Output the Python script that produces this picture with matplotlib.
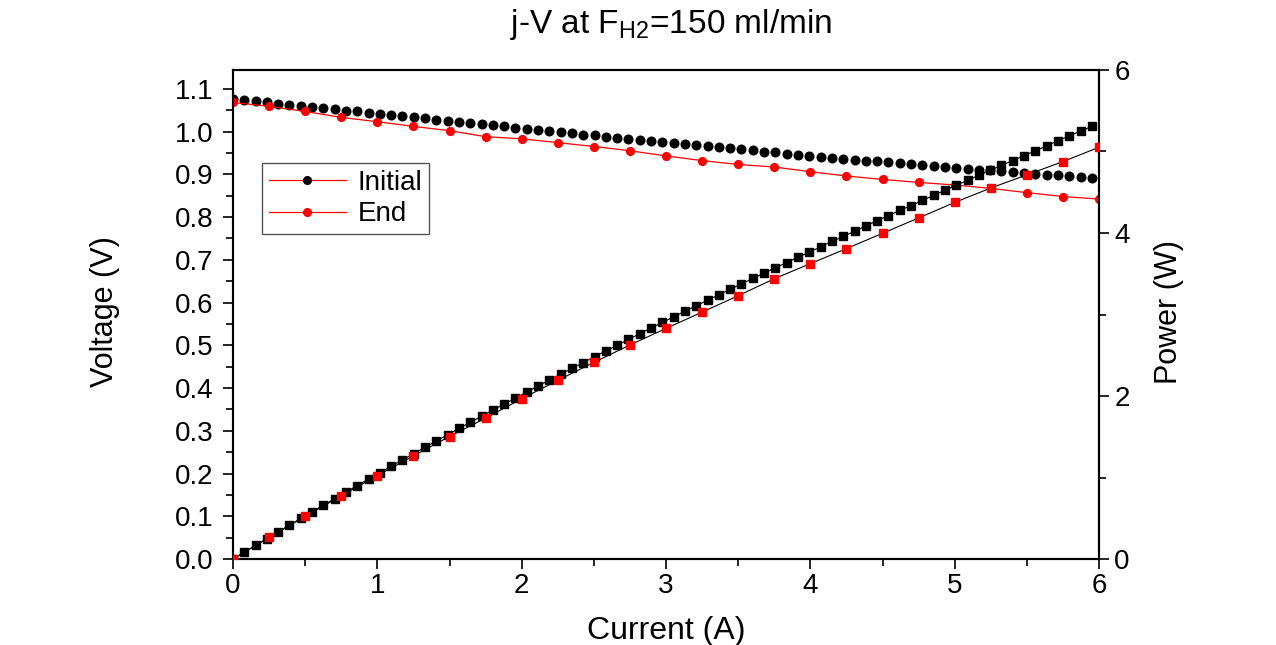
import numpy as np
import matplotlib
matplotlib.use("Agg")
import matplotlib.pyplot as plt
import matplotlib.ticker as ticker
from matplotlib.lines import Line2D

plt.rcParams['font.family'] = ['Liberation Sans', 'DejaVu Sans']
plt.rcParams['mathtext.default'] = 'regular'

# initial sweep: dense, ~0.078 A steps
current_initial = np.round(np.linspace(0, 5.95, 77), 3)
voltage_initial = [
    1.076, 1.073, 1.071, 1.068, 1.065, 1.063, 1.060, 1.057, 1.055, 1.052,
    1.049, 1.047, 1.044, 1.041, 1.039, 1.036, 1.033, 1.031, 1.028, 1.025,
    1.023, 1.020, 1.017, 1.015, 1.012, 1.009, 1.007, 1.004, 1.001, 0.999,
    0.996, 0.993, 0.991, 0.988, 0.985, 0.983, 0.981, 0.978, 0.976, 0.973,
    0.971, 0.968, 0.966, 0.963, 0.961, 0.958, 0.956, 0.953, 0.951, 0.948,
    0.946, 0.943, 0.941, 0.939, 0.936, 0.934, 0.932, 0.930, 0.928, 0.926,
    0.923, 0.921, 0.919, 0.917, 0.915, 0.913, 0.911, 0.909, 0.907, 0.905,
    0.903, 0.901, 0.899, 0.898, 0.896, 0.894, 0.892,
]

# end sweep: 0.25 A steps
current_end = [0.0, 0.25, 0.5, 0.75, 1.0, 1.25, 1.5, 1.75, 2.0, 2.25, 2.5, 2.75,
               3.0, 3.25, 3.5, 3.75, 4.0, 4.25, 4.5, 4.75, 5.0, 5.25, 5.5, 5.75, 6.0]
voltage_end = [1.068, 1.059, 1.047, 1.033, 1.023, 1.012, 1.002, 0.988, 0.983, 0.974,
               0.965, 0.955, 0.943, 0.932, 0.923, 0.917, 0.906, 0.896, 0.888, 0.881,
               0.875, 0.867, 0.857, 0.848, 0.842]

# power = I * V
power_initial = np.array(current_initial) * np.array(voltage_initial)
power_end = np.array(current_end) * np.array(voltage_end)

fig = plt.figure(figsize=(12.76, 6.45), dpi=100)
ax = fig.add_axes([0.1826, 0.1333, 0.6787, 0.7582])
ax2 = ax.twinx()

# voltage curves
ax.plot(current_initial, voltage_initial, linestyle='none', marker='o',
        markersize=6.2, color='black', zorder=3)
ax.plot(current_end, voltage_end, '-', color='red', linewidth=0.9, marker='o',
        markersize=5.6, markerfacecolor='red', markeredgecolor='red', zorder=3)

# power curves
ax2.plot(current_initial, power_initial, '-', color='black', linewidth=0.8,
         marker='s', markersize=5.4, zorder=3)
ax2.plot(current_end, power_end, '-', color='black', linewidth=0.8,
         marker='s', markersize=5.4, markerfacecolor='red', markeredgecolor='red', zorder=4)

ax.set_xlim(0, 6)
ax.set_ylim(0, 1.144)
ax2.set_ylim(0, 6)

ax.xaxis.set_major_locator(ticker.MultipleLocator(1))
ax.xaxis.set_minor_locator(ticker.MultipleLocator(0.5))
ax.yaxis.set_major_locator(ticker.MultipleLocator(0.1))
ax.yaxis.set_minor_locator(ticker.MultipleLocator(0.05))
ax.yaxis.set_major_formatter(ticker.FormatStrFormatter('%.1f'))
ax2.yaxis.set_major_locator(ticker.MultipleLocator(2))
ax2.yaxis.set_minor_locator(ticker.MultipleLocator(1))

for a in (ax, ax2):
    for s in a.spines.values():
        s.set_linewidth(1.5)
    a.tick_params(which='major', direction='out', length=7, width=1.2, labelsize=20)
    a.tick_params(which='minor', direction='out', length=5, width=1.2)
ax.tick_params(axis='y', pad=7)
ax.tick_params(axis='x', pad=3)
ax2.tick_params(axis='y', pad=4)
ax.tick_params(top=False, which='both')

ax.set_xlabel('Current (A)', fontsize=23)
ax.set_ylabel('Voltage (V)', fontsize=22)
ax2.set_ylabel('Power (W)', fontsize=22)
ax.xaxis.set_label_coords(0.5, -0.147)
ax.xaxis.label.set_va('center')
ax.yaxis.set_label_coords(-0.148, 0.505)
ax.yaxis.label.set_va('center')
ax2.yaxis.set_label_coords(1.081, 0.505)
ax2.yaxis.label.set_va('center')

fig.text(0.526, 0.949, 'j-V at F$_{H2}$=150 ml/min', fontsize=24,
         ha='center', va='baseline')

handles = [
    Line2D([], [], color='red', linewidth=0.9, marker='o', markersize=5.5,
           markerfacecolor='black', markeredgecolor='black'),
    Line2D([], [], color='red', linewidth=0.9, marker='o', markersize=5.5,
           markerfacecolor='red', markeredgecolor='red'),
]
leg = ax.legend(handles, ['Initial', 'End'], loc='upper left',
                bbox_to_anchor=(0.033, 0.81), borderaxespad=0, fontsize=20,
                fancybox=False, framealpha=1, edgecolor='#555555',
                handlelength=2.8, handletextpad=0.4, borderpad=0.25,
                labelspacing=0.2)
leg.get_frame().set_linewidth(1.0)
leg.set_zorder(10)

fig.savefig('out.png', dpi=100)
